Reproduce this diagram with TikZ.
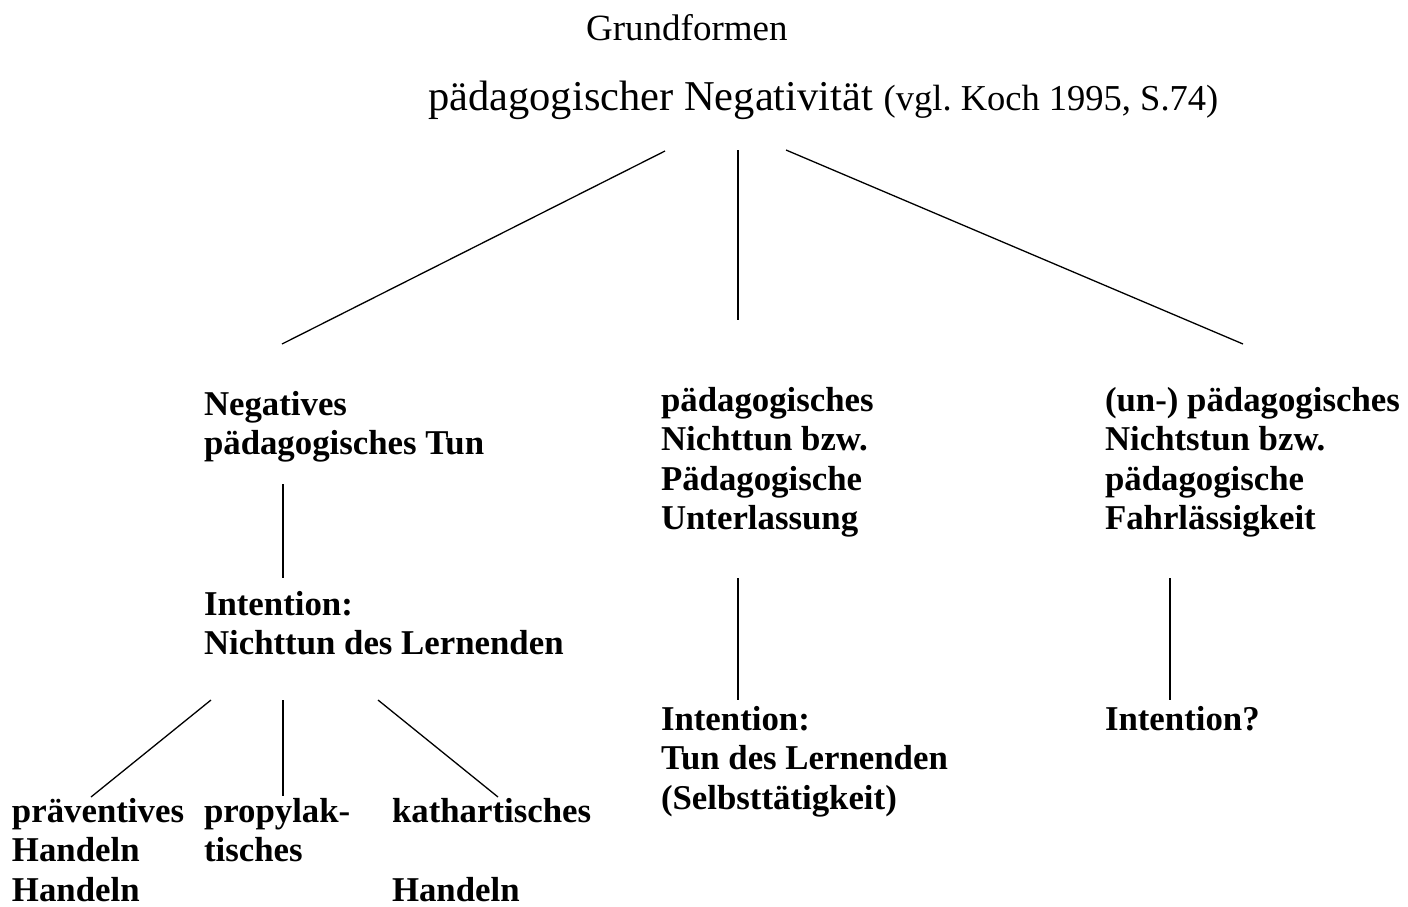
\documentclass[tikz,border=0pt]{standalone}
\usepackage{fontspec}
\setmainfont{Liberation Serif}
\frenchspacing
\begin{document}
\begin{tikzpicture}[x=1pt,y=-1pt,
  lbl/.style={anchor=base west,inner sep=0pt,outer sep=0pt,align=left,
    font=\fontsize{34.8}{39.5}\selectfont\bfseries},
  conn/.style={line width=1.3pt,black}]
\useasboundingbox (0,0) rectangle (1408,906);
% titles
\node[anchor=base west,inner sep=0pt,font=\fontsize{37}{44}\selectfont] (root) at (586,40) {Grundformen};
\node[anchor=base west,inner sep=0pt,font=\fontsize{42.5}{48}\selectfont] (sub) at (428,110)
  {pädagogischer Negativität {\fontsize{36.5}{44}\selectfont(vgl. Koch 1995, S.74)}};
% level 1 (anchor = baseline of the last line)
\node[lbl] (neg) at (204,454.5) {Negatives\\pädagogisches Tun};
\node[lbl] (nicht) at (661,529.5) {pädagogisches\\Nichttun bzw.\\Pädagogische\\Unterlassung};
\node[lbl] (fahr) at (1105,529.5) {(un-) pädagogisches\\Nichtstun bzw.\\pädagogische\\Fahrlässigkeit};
% level 2
\node[lbl] (negint) at (204,654.5) {Intention:\\Nichttun des Lernenden};
\node[lbl] (nichtint) at (661,809) {Intention:\\Tun des Lernenden\\(Selbsttätigkeit)};
\node[lbl] (fahrint) at (1105,730) {Intention?};
% level 3
\node[lbl] (prae) at (12,901) {präventives\\Handeln\\Handeln};
\node[lbl] (prop) at (204,861.5) {propylak-\\tisches};
\node[lbl] (kath) at (392,901) {kathartisches\\\mbox{}\\Handeln};
% connector end points
\coordinate (s1) at (665,151); \coordinate (e1) at (282,344);
\coordinate (s2) at (738,150); \coordinate (e2) at (738,320);
\coordinate (s3) at (786,150); \coordinate (e3) at (1243,344);
\coordinate (s4) at (283,484); \coordinate (e4) at (283,578);
\coordinate (s5) at (211,700); \coordinate (e5) at (91,797);
\coordinate (s6) at (283,700); \coordinate (e6) at (283,796);
\coordinate (s7) at (378,700); \coordinate (e7) at (498,797);
\coordinate (s8) at (738,578); \coordinate (e8) at (738,700);
\coordinate (s9) at (1170,578); \coordinate (e9) at (1170,700);
\draw[conn] (s1) -- (e1);
\draw[conn] (s2) -- (e2);
\draw[conn] (s3) -- (e3);
\draw[conn] (s4) -- (e4);
\draw[conn] (s5) -- (e5);
\draw[conn] (s6) -- (e6);
\draw[conn] (s7) -- (e7);
\draw[conn] (s8) -- (e8);
\draw[conn] (s9) -- (e9);
\end{tikzpicture}
\end{document}
